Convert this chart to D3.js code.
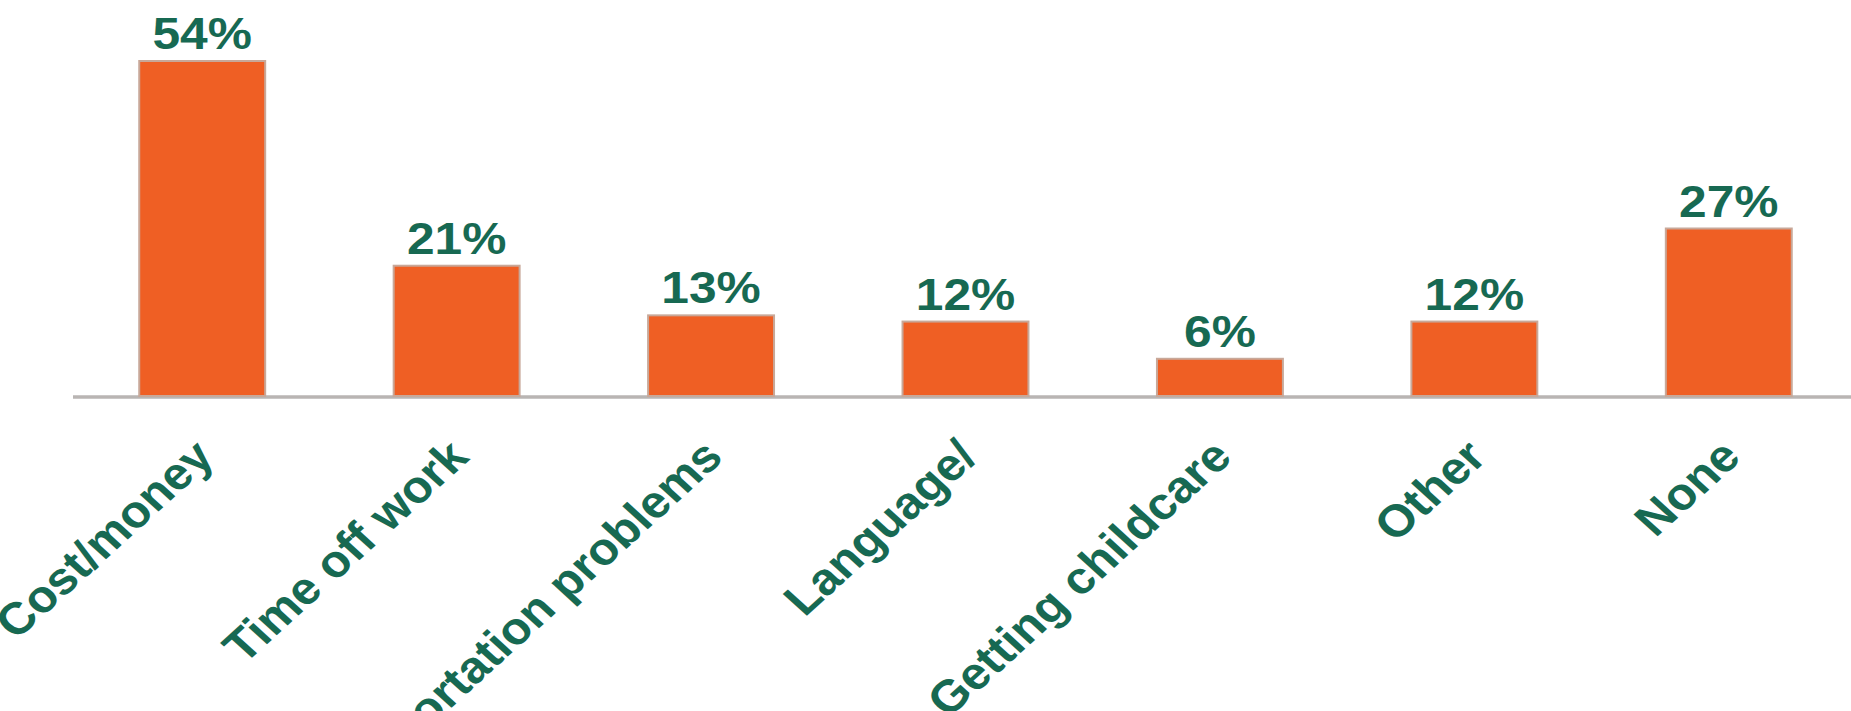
<!DOCTYPE html>
<html><head><meta charset="utf-8">
<script src="https://cdn.jsdelivr.net/npm/d3@7"></script>
<style>html,body{margin:0;padding:0;background:#fff;overflow:hidden}</style>
</head><body>
<svg id="chart" width="1851" height="711"></svg>
<script>
const categories = ["Cost/money","Time off work","Transportation problems","Language/","Getting childcare","Other","None"];
const values = [54,21,13,12,6,12,27];
const valueLabels = ["54%","21%","13%","12%","6%","12%","27%"];

const svg = d3.select("#chart");
const W = 1851, H = 711;
const baseY = 396;
const x = d3.scaleBand().domain(categories).range([75, 1856]).paddingInner(0.505).paddingOuter(0.2525);
const y = d3.scaleLinear().domain([0, 54]).range([baseY, 61]);

const teal = "#176952";

svg.append("line").attr("x1", 73).attr("x2", W).attr("y1", baseY + 1).attr("y2", baseY + 1)
  .attr("stroke", "#b9b5b3").attr("stroke-width", 3.5);

svg.selectAll("rect.bar").data(values).enter().append("rect").attr("class","bar")
  .attr("x", (d,i) => x(categories[i]))
  .attr("width", x.bandwidth())
  .attr("y", d => y(d))
  .attr("height", d => baseY - y(d))
  .attr("fill", "#ef5f24")
  .attr("stroke", "#c8a899").attr("stroke-width", 2);

svg.selectAll("text.val").data(values).enter().append("text").attr("class","val")
  .attr("transform", (d,i) => `translate(${x(categories[i]) + x.bandwidth()/2},${y(d) - 12}) scale(1.13,1)`)
  .attr("text-anchor", "middle")
  .attr("font-family", "Liberation Sans, Arial, sans-serif")
  .attr("font-weight", "bold")
  .attr("font-size", 44)
  .attr("fill", teal)
  .text((d,i) => valueLabels[i]);

svg.selectAll("text.cat").data(categories).enter().append("text").attr("class","cat")
  .attr("transform", d => `translate(${x(d) + x.bandwidth()/2 + 14},${baseY + 63}) scale(1.1,1) rotate(-45)`)
  .attr("text-anchor", "end")
  .attr("font-family", "Liberation Sans, Arial, sans-serif")
  .attr("font-weight", "bold")
  .attr("font-size", 45)
  .attr("fill", teal)
  .text(d => d);
</script>
</body></html>
